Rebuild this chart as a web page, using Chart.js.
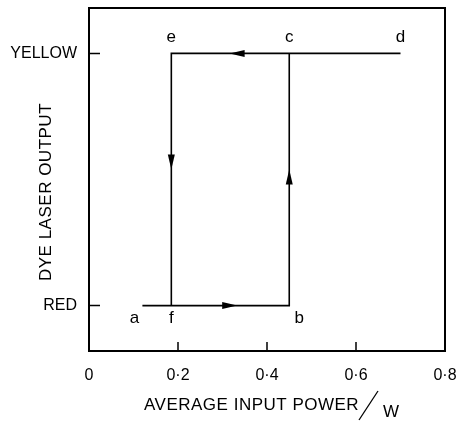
<!DOCTYPE html>
<html>
<head>
<meta charset="utf-8">
<script src="https://cdn.jsdelivr.net/npm/chart.js@4"></script>
<style>
  body { margin: 0; background: #fff; }
  canvas { display: block; }
</style>
</head>
<body>
<canvas id="loop-chart" width="460" height="421"></canvas>
<script>
// hysteresis loop a -> b -> c -> d -> e -> f
const pointNames = ['a', 'b', 'c', 'd', 'e', 'f'];
const powerW = [0.12, 0.45, 0.45, 0.70, 0.185, 0.185];
const output = [1, 1, 2, 2, 2, 1];

// direction arrows (tip position)
const arrowX = [0.333, 0.316, 0.185, 0.45];
const arrowY = [1, 2, 1.54, 1.54];
const arrowDir = ['right', 'left', 'down', 'up'];

const xTickVals = [0, 0.2, 0.4, 0.6, 0.8];
const xTickLabels = ['0', '0·2', '0·4', '0·6', '0·8'];
const yTickVals = [1, 2];
const yTickLabels = ['RED', 'YELLOW'];

const FONT = "'Liberation Sans', Arial, sans-serif";

const extras = {
  id: 'extras',
  afterDatasetsDraw(chart) {
    const { ctx, chartArea: a, scales: { x, y } } = chart;
    ctx.save();
    ctx.strokeStyle = '#000';
    ctx.fillStyle = '#000';

    // frame
    ctx.lineWidth = 2;
    ctx.strokeRect(a.left, a.top, a.right - a.left, a.bottom - a.top);

    // inward ticks
    ctx.lineWidth = 1.5;
    ctx.beginPath();
    xTickVals.slice(1, -1).forEach(v => {
      const px = x.getPixelForValue(v);
      ctx.moveTo(px, a.bottom);
      ctx.lineTo(px, a.bottom - 9);
    });
    yTickVals.forEach(v => {
      const py = y.getPixelForValue(v);
      ctx.moveTo(a.left, py);
      ctx.lineTo(a.left + 11, py);
    });
    ctx.stroke();

    // arrows
    arrowX.forEach((v, i) => {
      const px = x.getPixelForValue(v);
      const py = y.getPixelForValue(arrowY[i]);
      const len = 15, w = 3.5;
      ctx.beginPath();
      ctx.moveTo(px, py);
      if (arrowDir[i] === 'right') { ctx.lineTo(px - len, py - w); ctx.lineTo(px - len, py + w); }
      if (arrowDir[i] === 'left') { ctx.lineTo(px + len, py - w); ctx.lineTo(px + len, py + w); }
      if (arrowDir[i] === 'down') { ctx.lineTo(px - w, py - len); ctx.lineTo(px + w, py - len); }
      if (arrowDir[i] === 'up') { ctx.lineTo(px - w, py + len); ctx.lineTo(px + w, py + len); }
      ctx.closePath();
      ctx.fill();
    });

    // point letters
    ctx.font = '17px ' + FONT;
    ctx.textAlign = 'center';
    ctx.textBaseline = 'middle';
    const shift = { a: -8, b: 10 };
    pointNames.forEach((n, i) => {
      const px = x.getPixelForValue(powerW[i]) + (shift[n] || 0);
      const py = y.getPixelForValue(output[i]) + (output[i] === 2 ? -16 : 13);
      ctx.fillText(n, px, py);
    });

    // axis titles
    ctx.letterSpacing = '0.5px';
    ctx.font = '17px ' + FONT;
    ctx.textAlign = 'left';
    ctx.fillText('AVERAGE INPUT POWER', 144, 405);
    ctx.lineWidth = 1.3;
    ctx.beginPath();
    ctx.moveTo(359, 420);
    ctx.lineTo(378, 391);
    ctx.stroke();
    ctx.fillText('W', 383, 412);

    ctx.translate(46, 192);
    ctx.rotate(-Math.PI / 2);
    ctx.textAlign = 'center';
    ctx.fillText('DYE LASER OUTPUT', 0, 0);
    ctx.restore();
  }
};

new Chart(document.getElementById('loop-chart').getContext('2d'), {
  type: 'scatter',
  data: {
    datasets: [{
      data: powerW.map((v, i) => ({ x: v, y: output[i] })),
      showLine: true,
      borderColor: '#000',
      borderWidth: 1.6,
      pointRadius: 0,
      tension: 0
    }]
  },
  options: {
    responsive: false,
    animation: false,
    layout: { padding: { left: 0, top: 8, right: 15, bottom: 0 } },
    plugins: { legend: { display: false }, tooltip: { enabled: false } },
    scales: {
      x: {
        min: 0,
        max: 0.8,
        afterBuildTicks: s => { s.ticks = xTickVals.map(v => ({ value: v })); },
        afterFit: s => { s.height = 70; s.paddingLeft = 0; s.paddingRight = 0; },
        grid: { display: false, drawTicks: false },
        border: { display: false },
        ticks: {
          padding: 15,
          color: '#000',
          font: { family: FONT, size: 16 },
          callback: (v, i) => xTickLabels[i]
        }
      },
      y: {
        min: 0.82,
        max: 2.18,
        afterBuildTicks: s => { s.ticks = yTickVals.map(v => ({ value: v })); },
        afterFit: s => { s.width = 89; s.paddingTop = 0; s.paddingBottom = 0; },
        grid: { display: false, drawTicks: false },
        border: { display: false },
        ticks: {
          padding: 12,
          color: '#000',
          font: { family: FONT, size: 16 },
          callback: (v, i) => yTickLabels[i]
        }
      }
    }
  },
  plugins: [extras]
});
</script>
</body>
</html>
